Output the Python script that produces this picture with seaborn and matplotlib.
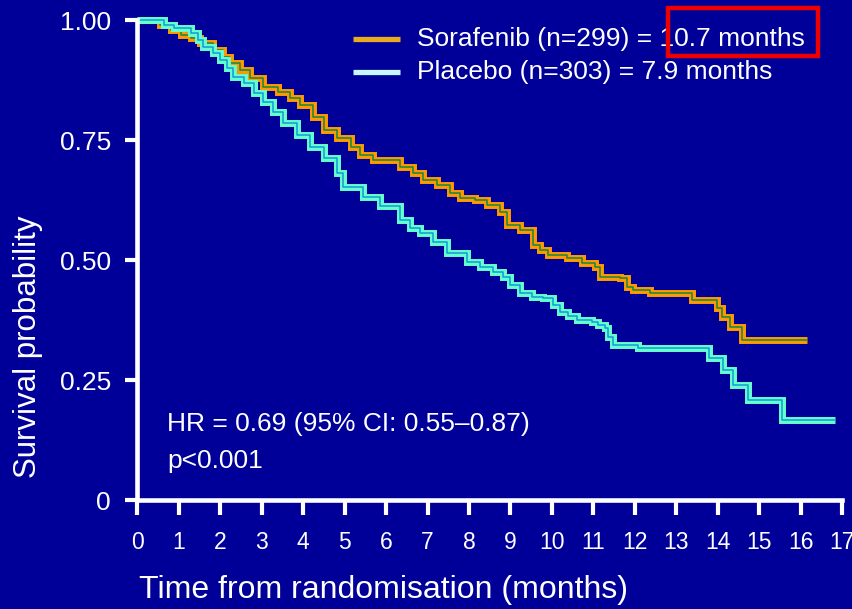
import matplotlib
matplotlib.use("Agg")
import matplotlib.pyplot as plt
import pandas as pd
import seaborn as sns
from matplotlib.lines import Line2D
from matplotlib.patches import Rectangle

# Kaplan-Meier estimates: time of each step (months) and survival after the step
sorafenib_time = [0, 0.55, 0.80, 1.04, 1.28, 1.52, 1.83, 2.07, 2.24, 2.48, 2.72, 3.04,
                  3.38, 3.69, 3.93, 4.24, 4.49, 4.82, 5.14, 5.38, 5.69, 6.34, 6.66, 6.90,
                  7.23, 7.55, 7.79, 8.15, 8.44, 8.75, 8.92, 9.24, 9.55, 9.72, 9.91, 10.37,
                  10.73, 11.04, 11.16, 11.65, 11.82, 11.96, 12.37, 13.38, 13.99, 14.11,
                  14.30, 14.59, 16.16]
sorafenib_surv = [1.0, 0.990, 0.979, 0.969, 0.963, 0.952, 0.9375, 0.923, 0.910, 0.896,
                  0.879, 0.860, 0.850, 0.8375, 0.823, 0.798, 0.771, 0.754, 0.735, 0.719,
                  0.708, 0.694, 0.681, 0.667, 0.656, 0.640, 0.629, 0.625, 0.615, 0.600,
                  0.573, 0.5625, 0.531, 0.521, 0.510, 0.504, 0.494, 0.485, 0.465, 0.4625,
                  0.444, 0.4375, 0.431, 0.417, 0.400, 0.381, 0.360, 0.333, 0.333]

placebo_time = [0, 0.63, 0.87, 1.28, 1.45, 1.59, 1.83, 2.00, 2.17, 2.31, 2.56, 2.80,
                3.04, 3.28, 3.52, 3.86, 4.17, 4.49, 4.82, 4.97, 5.45, 5.86, 6.34, 6.58,
                6.82, 7.14, 7.48, 7.96, 8.27, 8.58, 8.83, 8.99, 9.24, 9.52, 9.79, 10.03,
                10.20, 10.39, 10.61, 10.97, 11.12, 11.28, 11.36, 11.48, 12.08, 13.79,
                14.13, 14.37, 14.73, 15.55, 16.83]
placebo_surv = [1.0, 0.990, 0.983, 0.973, 0.958, 0.944, 0.931, 0.917, 0.900, 0.881,
                0.869, 0.848, 0.829, 0.808, 0.785, 0.760, 0.735, 0.7125, 0.681, 0.652,
                0.631, 0.6125, 0.583, 0.567, 0.556, 0.5375, 0.515, 0.496, 0.485, 0.475,
                0.465, 0.448, 0.431, 0.423, 0.421, 0.406, 0.392, 0.383, 0.375, 0.371,
                0.365, 0.358, 0.340, 0.323, 0.317, 0.296, 0.271, 0.240, 0.208, 0.167,
                0.167]

x_ticks = list(range(0, 18))
y_ticks = [0, 0.25, 0.50, 0.75, 1.00]
y_tick_labels = ["0", "0.25", "0.50", "0.75", "1.00"]

legend_labels = ["Sorafenib (n=299) = 10.7 months", "Placebo (n=303) = 7.9 months"]
stats_lines = ["HR = 0.69 (95% CI: 0.55\u20130.87)", "p<0.001"]

BG = "#000099"
WHITE = "#FFFFFF"

sns.set_theme(style="ticks")
plt.rcParams["font.family"] = ["Liberation Sans", "DejaVu Sans"]

W, H = 853, 609
fig = plt.figure(figsize=(W / 100, H / 100), dpi=100, facecolor=BG)
ax = fig.add_axes([137.5 / W, 1 - 500 / H, (842 - 137.5) / W, 480 / H])
ax.set_facecolor(BG)

# Each arm: a broad coloured band with a thin core line inside it
arms = [
    (sorafenib_time, sorafenib_surv, "#FF9900", "#118844"),
    (placebo_time, placebo_surv, "#66FFCC", "#1199DD"),
]
for t, s, outer, inner in arms:
    df = pd.DataFrame({"time": t, "surv": s})
    sns.lineplot(data=df, x="time", y="surv", ax=ax, color=outer, lw=5.0,
                 drawstyle="steps-post", estimator=None, sort=False,
                 solid_joinstyle="miter", solid_capstyle="butt",
                 clip_on=False, legend=False)
    sns.lineplot(data=df, x="time", y="surv", ax=ax, color=inner, lw=1.1,
                 drawstyle="steps-post", estimator=None, sort=False,
                 solid_capstyle="butt", clip_on=False, legend=False)

ax.set_xlim(0, 17)
ax.set_ylim(0, 1)
ax.set_xticks(x_ticks)
ax.set_xticklabels([str(v) for v in x_ticks])
ax.set_yticks(y_ticks)
ax.set_yticklabels(y_tick_labels)

sns.despine(ax=ax)
for side in ("left", "bottom"):
    ax.spines[side].set_color(WHITE)
    ax.spines[side].set_linewidth(3.3)
    ax.spines[side].set_zorder(5)
ax.tick_params(axis="x", colors=WHITE, width=3, length=10.5, pad=12, labelsize=16.5)
ax.tick_params(axis="y", colors=WHITE, width=3, length=9, pad=10, labelsize=19)

ax.set_xlabel("Time from randomisation (months)", color=WHITE, fontsize=23)
ax.xaxis.set_label_coords((384 - 137.5) / 704.5, -(590 - 500) / 480)
ax.xaxis.label.set_va("center")
ax.set_ylabel("Survival probability", color=WHITE, fontsize=22.5)
ax.yaxis.set_label_coords((28 - 137.5) / 704.5, (500 - 346.5) / 480)
ax.yaxis.label.set_va("center")
ax.yaxis.label.set_ha("center")

ax.text((167 - 137.5) / 704.5, (500 - 424) / 480, stats_lines[0], transform=ax.transAxes,
        color=WHITE, fontsize=19, ha="left", va="center")
ax.text((167 - 137.5) / 704.5, (500 - 461) / 480, stats_lines[1], transform=ax.transAxes,
        color=WHITE, fontsize=19, ha="left", va="center")

# Legend keys and labels
legend_colors = ["#E8AA1E", "#C8F8FF"]
for label, color, yp in zip(legend_labels, legend_colors, [39, 72]):
    fig.add_artist(Line2D([353 / W, 400 / W], [1 - yp / H, 1 - yp / H],
                          transform=fig.transFigure, color=color, lw=3.8,
                          solid_capstyle="butt"))
    fig.text(417 / W, 1 - yp / H, label, color=WHITE, fontsize=19,
             ha="left", va="center")

# Highlight box around the sorafenib median
box = Rectangle((668 / W, 1 - 56 / H), 150 / W, 48 / H,
                transform=fig.transFigure, fill=False,
                edgecolor="#EE0000", lw=3.2)
box.set_zorder(10)
fig.add_artist(box)

fig.savefig("out.png", dpi=100, facecolor=BG)
